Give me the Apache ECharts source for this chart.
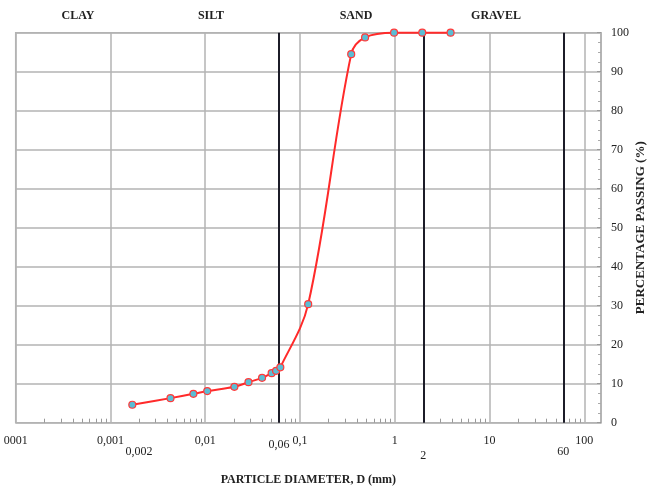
<!DOCTYPE html>
<html>
<head>
<meta charset="utf-8">
<script src="https://cdn.jsdelivr.net/npm/echarts@6/dist/echarts.min.js"></script>
<style>html,body{margin:0;padding:0;background:#fff;}#c{width:649px;height:486px;}</style>
</head>
<body>
<div id="c"></div>
<script>
// Particle size distribution data
const diameters = [0.0017, 0.0043, 0.0075, 0.0105, 0.0203, 0.0286, 0.0398, 0.0502, 0.0559, 0.062, 0.122, 0.347, 0.486, 0.983, 1.95, 3.88];
const passing   = [4.6, 6.3, 7.4, 8.1, 9.2, 10.4, 11.5, 12.7, 13.3, 14.2, 30.4, 94.5, 98.8, 100, 100, 100];

// x-axis tick labels
const tickValues = [0.0001, 0.001, 0.002, 0.01, 0.06, 0.1, 1, 2, 10, 60, 100];
const tickLabels = ['0001', '0,001', '0,002', '0,01', '0,06', '0,1', '1', '2', '10', '60', '100'];
const tickRows   = ['r0', 'r0', 'r2', 'r0', 'r1', 'r0', 'r0', 'r3', 'r0', 'r2', 'r0'];

// soil class boundaries (dark vertical lines)
const boundaries = [0.002, 0.06, 2, 60];
// soil class names
const classNames = ['CLAY', 'SILT', 'SAND', 'GRAVEL'];
const classX = [78, 211, 356, 496];

// minor tick positions along log axis
const decades = [0.0001, 0.001, 0.01, 0.1, 1, 10];
const multipliers = [2, 3, 4, 5, 6, 7, 8, 9];
const minorTicks = [];
decades.forEach(d => multipliers.forEach(m => { const v = d * m; if (v < 150) minorTicks.push(v); }));

const serif = '"Liberation Serif", "DejaVu Serif", serif';

function labelFor(v) {
  let best = 0, bd = 1e9;
  tickValues.forEach((t, i) => { const d = Math.abs(Math.log10(t) - Math.log10(v)); if (d < bd) { bd = d; best = i; } });
  return '{' + tickRows[best] + '|' + tickLabels[best] + '}';
}

const chart = echarts.init(document.getElementById('c'), null, { renderer: 'canvas' });
chart.setOption({
  animation: false,
  backgroundColor: '#fff',
  grid: { left: 15.7, right: 48, top: 32.7, bottom: 63.3, show: true, borderColor: '#b3b3b3', borderWidth: 1.5, containLabel: false, outerBoundsMode: 'none' },
  graphic: classNames.map((n, i) => ({
    type: 'text', x: classX[i], y: 10,
    style: { text: n, fill: '#222', font: 'bold 12px ' + serif, textAlign: 'center', textVerticalAlign: 'top' }
  })),
  xAxis: [{
    type: 'log', logBase: 10, min: 0.0001, max: 150,
    position: 'bottom',
    axisLine: { show: false },
    axisTick: { show: false },
    splitLine: { show: true, lineStyle: { color: '#b3b3b3', width: 1.5 } },
    axisLabel: {
      show: true, customValues: tickValues, margin: 12,
      formatter: labelFor,
      color: '#222', fontFamily: serif, fontSize: 12,
      rich: {
        r0: { fontFamily: serif, fontSize: 12, color: '#222', padding: [0, 0, 0, 0] },
        r1: { fontFamily: serif, fontSize: 12, color: '#222', padding: [4, 0, 0, 0] },
        r2: { fontFamily: serif, fontSize: 12, color: '#222', padding: [11, 0, 0, 0] },
        r3: { fontFamily: serif, fontSize: 12, color: '#222', padding: [15, 0, 0, 0] }
      }
    },
    name: 'PARTICLE DIAMETER, D (mm)', nameLocation: 'middle', nameGap: 51, nameMoveOverlap: false,
    nameTextStyle: { fontFamily: serif, fontWeight: 'bold', fontSize: 12, color: '#222' }
  }, {
    type: 'log', logBase: 10, min: 0.0001, max: 150,
    position: 'bottom',
    axisLine: { show: false },
    splitLine: { show: false },
    axisLabel: { show: false },
    axisTick: { show: true, customValues: minorTicks, inside: true, length: 4, lineStyle: { color: '#999', width: 1 } }
  }],
  yAxis: {
    type: 'value', min: 0, max: 100, interval: 10, position: 'right',
    axisLine: { show: true, lineStyle: { color: '#b3b3b3', width: 1.5 } },
    axisTick: { show: true, inside: true, length: 4, lineStyle: { color: '#999' } },
    minorTick: { show: true, splitNumber: 4, length: 3, lineStyle: { color: '#aaa' } },
    splitLine: { show: true, lineStyle: { color: '#b3b3b3', width: 1.5 } },
    axisLabel: { color: '#222', fontFamily: serif, fontSize: 12, margin: 10 },
    name: 'PERCENTAGE PASSING (%)', nameLocation: 'middle', nameGap: 33, nameRotate: 90, nameMoveOverlap: false,
    nameTextStyle: { fontFamily: serif, fontWeight: 'bold', fontSize: 13, color: '#222' }
  },
  series: [{
    type: 'line', xAxisIndex: 0,
    data: diameters.map((d, i) => [d, passing[i]]),
    smooth: 0.35,
    clip: false,
    symbol: 'circle', symbolSize: 7,
    lineStyle: { color: '#ff2a2a', width: 2 },
    itemStyle: { color: '#5bbdd4', borderColor: '#ff3a3a', borderWidth: 1.2 },
    markLine: {
      silent: true, symbol: 'none', label: { show: false },
      lineStyle: { color: '#1c1c28', width: 2, type: 'solid' },
      data: boundaries.map(b => ({ xAxis: b }))
    },
    z: 5
  }]
});
</script>
</body>
</html>
